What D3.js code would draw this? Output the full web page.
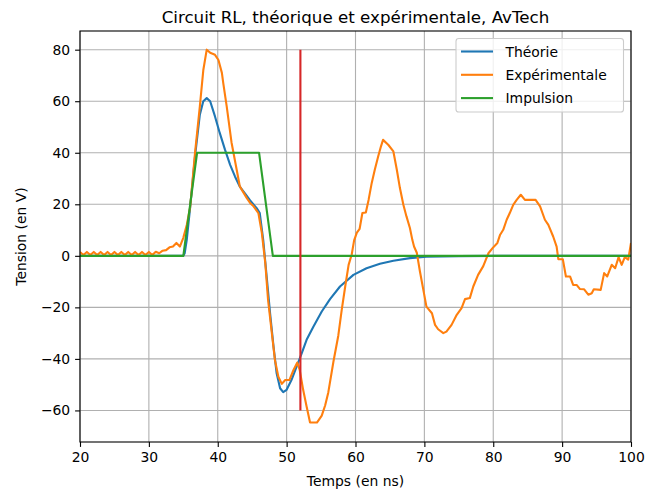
<!DOCTYPE html>
<html>
<head>
<meta charset="utf-8">
<script src="https://cdn.jsdelivr.net/npm/d3@7"></script>
<style>
  html, body { margin: 0; padding: 0; background: #fff; }
  svg { display: block; font-family: "DejaVu Sans", sans-serif; }
</style>
</head>
<body>
<svg id="chart" width="646" height="493"></svg>
<script>
// ---- Data ----
const xTicks = [20, 30, 40, 50, 60, 70, 80, 90, 100];
const yTicks = [-60, -40, -20, 0, 20, 40, 60, 80];

const theoT = [20, 35, 35.2, 35.5, 36, 36.7, 37.4, 37.9, 38.4, 38.9, 39.6, 40.3, 41.05, 41.8, 42.5, 43.2, 44, 44.7, 45.65, 46.1, 46.6, 47.1, 47.6, 48.1, 48.55, 49.05, 49.5, 50, 50.7, 51.45, 52.2, 52.9, 53.9, 55.1, 56.3, 57.75, 59.7, 61.6, 63.55, 65.5, 67.9, 70.3, 75, 80, 100];
const theoV = [0, 0, 1, 6.2, 19, 38.6, 54.8, 60, 61.2, 60, 54.1, 47.6, 41.2, 35.3, 30.8, 26.9, 24, 21.5, 18.5, 16.6, 6.2, -8, -22.3, -35.2, -45.6, -51.4, -52.9, -52, -48.2, -43, -37.8, -32.6, -27.4, -21.6, -16.8, -11.9, -7.4, -4.8, -3.1, -1.9, -0.9, -0.3, -0.1, 0, 0];

const expT = [20, 20.5, 21, 21.5, 22, 22.5, 23, 23.5, 24, 24.5, 25, 25.5, 26, 26.5, 27, 27.5, 28, 28.5, 29, 29.5, 30, 30.5, 31, 31.5, 32, 32.5, 33, 33.5, 34, 34.5, 35, 35.5, 36, 36.7, 37.4, 37.9, 38.4, 38.9, 39.6, 40.1, 40.6, 40.8, 41.3, 42, 42.75, 43.2, 43.5, 44.2, 44.7, 45.2, 45.9, 46.4, 46.9, 47.3, 47.8, 48.3, 48.8, 49.3, 49.8, 50.4, 51, 51.55, 51.9, 52.4, 52.9, 53.4, 54.4, 55.1, 55.6, 56.05, 56.8, 57.5, 58, 58.5, 59, 59.45, 59.8, 60.2, 60.6, 61, 61.5, 61.9, 62.35, 62.8, 63.3, 63.7, 64, 64.75, 65.5, 66, 66.45, 66.95, 67.4, 67.9, 68.25, 68.5, 68.9, 69.35, 69.85, 70.3, 71.1, 71.55, 72, 72.75, 73.2, 73.95, 74.7, 75.4, 75.9, 76.6, 77.1, 77.8, 78.55, 79.3, 79.9, 80.6, 81, 81.45, 81.95, 82.4, 82.9, 83.4, 84, 84.6, 85.3, 86.15, 86.8, 87.5, 88, 88.7, 89.2, 89.45, 90.1, 90.55, 91.15, 91.6, 92.1, 92.6, 93.2, 93.8, 94.3, 94.6, 95.6, 96.1, 96.55, 97.2, 97.7, 98.2, 98.65, 99.1, 99.6, 100];
const expV = [1.5, 0.3, 1.5, 0.3, 1.5, 0.3, 1.5, 0.3, 1.5, 0.3, 1.5, 0.3, 1.5, 0.3, 1.5, 0.3, 1.5, 0.3, 1.5, 0.3, 1.5, 0.3, 1.6, 1.0, 2.0, 2.2, 3.3, 3.6, 5.0, 3.6, 7.0, 12, 19, 40, 58, 72, 80, 78.8, 78, 76, 71, 67, 58, 44, 33.4, 27, 25.6, 22.5, 20.5, 19.2, 16.6, 8.9, -2.8, -17, -28.7, -40.4, -46.9, -49.7, -48.2, -48.2, -44.3, -41.4, -44.3, -52, -58.5, -64.7, -64.7, -62, -58, -53, -41, -31, -21, -12, -3.5, 0.5, 6, 9, 10.5, 16.6, 16.8, 21.7, 28.2, 33.4, 38.6, 42.5, 45, 43.1, 40.5, 33.4, 26.3, 19.8, 15.3, 10.8, 6.2, 3.6, 1.2, -6, -13.2, -19.7, -22.3, -26.8, -28.5, -30, -29.4, -26.8, -22.9, -20.3, -16.8, -16.4, -11.9, -7.4, -4, 1, 3, 5, 8.2, 10.1, 14, 16.6, 19.8, 21.7, 23.7, 21.7, 21.7, 21.7, 19.2, 14, 12, 7.5, 3.6, -1.3, -1.3, -8, -8, -11.3, -11.3, -12.9, -13, -15.1, -14.5, -13, -13.2, -6.7, -8, -3.5, -4.8, -0.5, -3.5, -0.5, -1.5, 5];

const impT = [20, 35, 37, 46, 48, 100];
const impV = [0, 0, 40, 40, 0, 0];

const markerT = [52, 52];
const markerV = [-60, 80];

const seriesNames = ["Théorie", "Expérimentale", "Impulsion"];
const seriesColors = ["#1f77b4", "#ff7f0e", "#2ca02c"];

// ---- Layout ----
const W = 646, H = 493;
const m = { left: 80, right: 646 - 631, top: 31, bottom: 493 - 442 };
const iw = W - m.left - m.right, ih = H - m.top - m.bottom;
const svg = d3.select("#chart");

const x = d3.scaleLinear().domain([20, 100]).range([m.left, m.left + iw]);
const y = d3.scaleLinear().domain([-72.25, 87.25]).range([m.top + ih, m.top]);

svg.append("defs").append("clipPath").attr("id", "clip")
  .append("rect").attr("x", m.left).attr("y", m.top).attr("width", iw).attr("height", ih);

// Grid
const grid = svg.append("g");
grid.selectAll(".gx").data(xTicks).enter().append("line")
  .attr("x1", d => x(d)).attr("x2", d => x(d))
  .attr("y1", m.top).attr("y2", m.top + ih)
  .attr("stroke", "#b0b0b0").attr("stroke-width", 1.1);
grid.selectAll(".gy").data(yTicks).enter().append("line")
  .attr("x1", m.left).attr("x2", m.left + iw)
  .attr("y1", d => y(d)).attr("y2", d => y(d))
  .attr("stroke", "#b0b0b0").attr("stroke-width", 1.1);

// Lines
const line = d3.line().x(d => x(d[0])).y(d => y(d[1]));
const plot = svg.append("g").attr("clip-path", "url(#clip)");
const series = [
  d3.zip(theoT, theoV),
  d3.zip(expT, expV),
  d3.zip(impT, impV)
];
series.forEach((s, i) => {
  plot.append("path").datum(s).attr("d", line)
    .attr("fill", "none").attr("stroke", seriesColors[i])
    .attr("stroke-width", 2.1).attr("stroke-linejoin", "round").attr("stroke-linecap", "butt");
});
plot.append("path").datum(d3.zip(markerT, markerV)).attr("d", line)
  .attr("fill", "none").attr("stroke", "#d62728").attr("stroke-width", 2.1);

// Axes
const fs = 13.9;
const xAxis = d3.axisBottom(x).tickValues(xTicks).tickSize(4.9).tickPadding(4.9).tickFormat(d3.format("d"));
const yAxis = d3.axisLeft(y).tickValues(yTicks).tickSize(4.9).tickPadding(4.9)
  .tickFormat(d => d < 0 ? "\u2212" + Math.abs(d) : String(d));

const gx = svg.append("g").attr("transform", `translate(0,${m.top + ih})`).call(xAxis);
const gy = svg.append("g").attr("transform", `translate(${m.left},0)`).call(yAxis);
[gx, gy].forEach(g => {
  g.select(".domain").remove();
  g.selectAll("line").attr("stroke", "#000").attr("stroke-width", 1.1);
  g.selectAll("text").attr("font-size", fs).attr("fill", "#000").attr("font-family", "DejaVu Sans");
});

// Spines
svg.append("rect").attr("x", m.left).attr("y", m.top).attr("width", iw).attr("height", ih)
  .attr("fill", "none").attr("stroke", "#000").attr("stroke-width", 1.1);

// Labels
svg.append("text").attr("x", m.left + iw / 2).attr("y", 22.5).attr("text-anchor", "middle")
  .attr("font-size", 16.7).text("Circuit RL, théorique et expérimentale, AvTech");
svg.append("text").attr("x", m.left + iw / 2).attr("y", 486).attr("text-anchor", "middle")
  .attr("font-size", fs).text("Temps (en ns)");
svg.append("text").attr("transform", `translate(26,${m.top + ih / 2}) rotate(-90)`)
  .attr("text-anchor", "middle").attr("font-size", fs).text("Tension (en V)");

// Legend
const lg = svg.append("g");
lg.append("rect").attr("x", 456).attr("y", 38.5).attr("width", 167.5).attr("height", 73.5)
  .attr("rx", 2.8).attr("fill", "#fff").attr("fill-opacity", 0.8)
  .attr("stroke", "#cccccc").attr("stroke-width", 1.1);
seriesNames.forEach((n, i) => {
  const yy = 51.5 + i * 23.3;
  lg.append("line").attr("x1", 461).attr("x2", 493).attr("y1", yy).attr("y2", yy)
    .attr("stroke", seriesColors[i]).attr("stroke-width", 2.1);
  lg.append("text").attr("x", 505.5).attr("y", yy + 5).attr("font-size", fs).text(n);
});
</script>
</body>
</html>
